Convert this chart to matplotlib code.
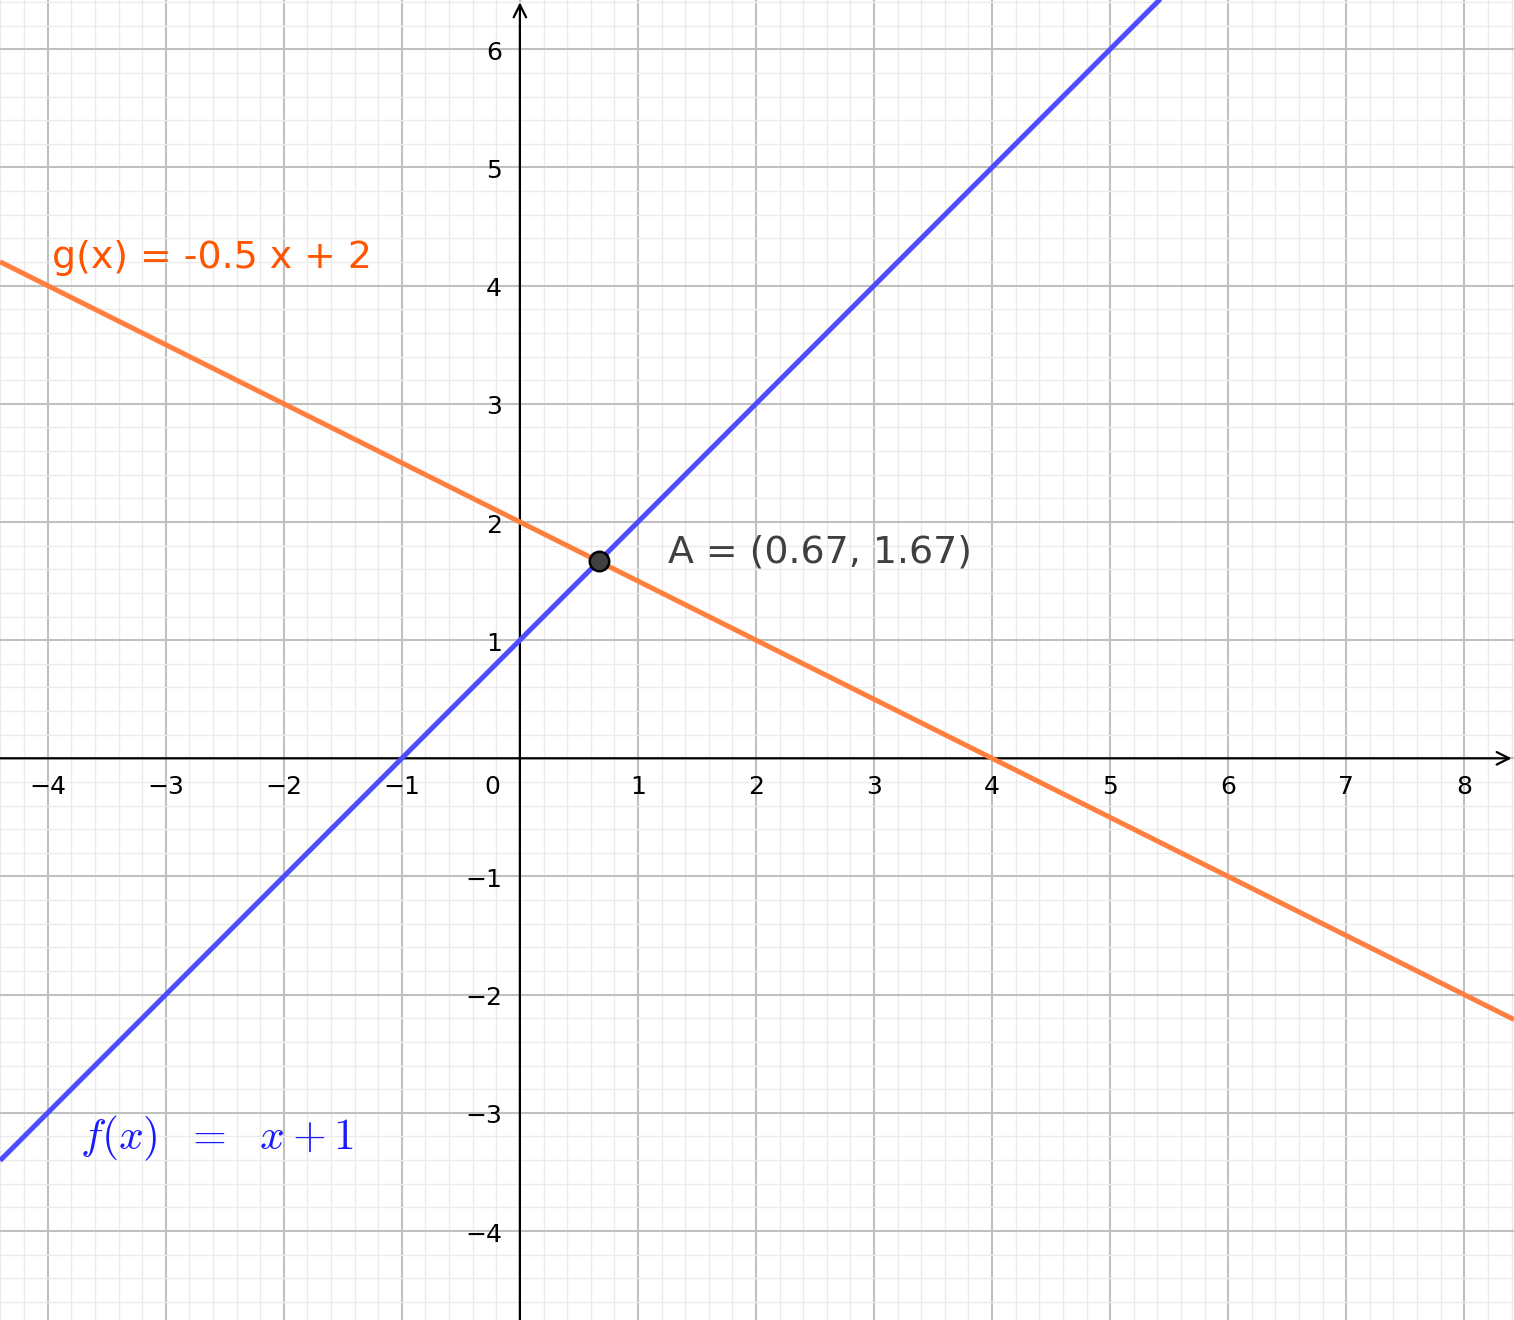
import numpy as np
import matplotlib
matplotlib.use("Agg")
import matplotlib.pyplot as plt
from matplotlib.ticker import MultipleLocator

# ---- data ----
f_slope, f_intercept = 1.0, 1.0      # f(x) = x + 1
g_slope, g_intercept = -0.5, 2.0     # g(x) = -0.5 x + 2
x_ticks = [-4, -3, -2, -1, 1, 2, 3, 4, 5, 6, 7, 8]
y_ticks = [-4, -3, -2, -1, 1, 2, 3, 4, 5, 6]
f_label = r"$f(x)\ \ =\ \ x+1$"
g_label = "g(x) = -0.5 x + 2"

xmin, xmax = -4.404, 8.421
ymin, ymax = -4.753, 6.417

plt.rcParams['mathtext.fontset'] = 'cm'
fig = plt.figure(figsize=(15.14, 13.2), dpi=100)
ax = fig.add_axes([0, 0, 1, 1])
ax.set_xlim(xmin, xmax)
ax.set_ylim(ymin, ymax)
for s in ax.spines.values():
    s.set_visible(False)

ax.xaxis.set_major_locator(MultipleLocator(1))
ax.xaxis.set_minor_locator(MultipleLocator(0.2))
ax.yaxis.set_major_locator(MultipleLocator(1))
ax.yaxis.set_minor_locator(MultipleLocator(0.2))
ax.grid(which='minor', color='#ebebeb', lw=1.0, zorder=0)
ax.grid(which='major', color='#c0c0c0', lw=1.5, zorder=0.5)
ax.tick_params(which='both', length=0, labelbottom=False, labelleft=False)
ax.set_axisbelow(True)

# axes with arrows
ax.annotate('', xy=(xmax - 0.02, 0), xytext=(xmin, 0),
            arrowprops=dict(arrowstyle='->,head_length=0.9,head_width=0.45',
                            lw=1.6, color='black', shrinkA=0, shrinkB=0), zorder=2)
ax.annotate('', xy=(0, ymax - 0.02), xytext=(0, ymin),
            arrowprops=dict(arrowstyle='->,head_length=0.9,head_width=0.45',
                            lw=1.6, color='black', shrinkA=0, shrinkB=0), zorder=2)

# tick labels
for xv in x_ticks:
    ax.text(xv, -0.24, str(xv).replace('-', '\u2212'), ha='center', va='center',
            fontsize=18, color='black', zorder=3)
ax.text(-0.23, -0.24, '0', ha='center', va='center', fontsize=18, color='black', zorder=3)
for yv in y_ticks:
    ax.text(-0.15, yv - 0.03, str(yv).replace('-', '\u2212'), ha='right', va='center',
            fontsize=18, color='black', zorder=3)

# lines
xs = np.array([xmin, xmax])
ax.plot(xs, g_slope * xs + g_intercept, color='#ff7f3f', lw=3.6, zorder=4,
        solid_capstyle='butt')
ax.plot(xs, f_slope * xs + f_intercept, color='#4d4dff', lw=3.6, zorder=4,
        solid_capstyle='butt')

# intersection
xa = (g_intercept - f_intercept) / (f_slope - g_slope)
ya = f_slope * xa + f_intercept
ax.plot([xa], [ya], 'o', ms=14, mfc='#404040', mec='black', mew=1.8, zorder=5)
ax.text(1.255, 1.66, f"A = ({xa:.2f}, {ya:.2f})", fontsize=27.3, color='#404040',
        ha='left', va='baseline', zorder=6)

ax.text(-3.96, 4.15, g_label, fontsize=27.3, color='#ff5500', ha='left', va='baseline', zorder=6)
ax.text(-3.73, -3.31, f_label, fontsize=31.3, color='#1a1aff', ha='left', va='baseline', zorder=6)

fig.savefig('out.png', dpi=100)
